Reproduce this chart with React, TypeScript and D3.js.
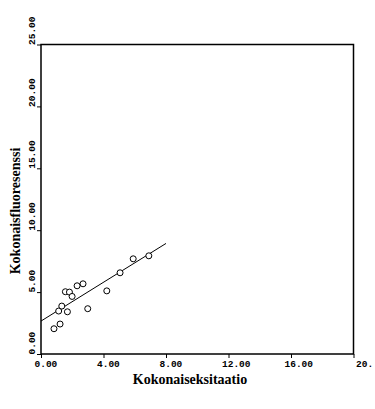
import React, { useEffect, useRef } from 'react'
import * as d3 from 'd3'

// excitation vs fluorescence
const excitation = [0.83, 1.22, 1.13, 1.33, 1.69, 1.56, 1.82, 1.99, 2.31, 2.69, 2.99, 4.21, 5.06, 5.9, 6.9]
const fluorescence = [2.04, 2.42, 3.47, 3.87, 3.41, 5.03, 5.0, 4.65, 5.51, 5.67, 3.66, 5.1, 6.56, 7.69, 7.93]

// regression line ends
const fitX = [0, 8.0]
const fitY = [2.66, 8.93]

const xTicks = [0, 4, 8, 12, 16, 20]
const xTickLabels = ['0.00', '4.00', '8.00', '12.00', '16.00', '20.']
const yTicks = [0, 5, 10, 15, 20, 25]
const yTickLabels = ['0.00', '5.00', '10.00', '15.00', '20.00', '25.00']

const xTitle = 'Kokonaiseksitaatio'
const yTitle = 'Kokonaisfluoresenssi'

const W = 375
const H = 409

export default function App () {
  const ref = useRef<SVGSVGElement>(null)

  useEffect(() => {
    const svg = d3.select(ref.current)
    svg.selectAll('*').remove()

    const x = d3.scaleLinear().domain([0, 20]).range([41, 353.5])
    const y = d3.scaleLinear().domain([0, 25]).range([354, 44.5])

    const tickFont = "'Liberation Mono', monospace"
    const titleFont = "'Liberation Serif', 'DejaVu Serif', serif"

    // frame
    svg.append('rect')
      .attr('x', x(0)).attr('y', y(25))
      .attr('width', x(20) - x(0)).attr('height', y(0) - y(25))
      .attr('fill', 'none').attr('stroke', '#000').attr('stroke-width', 1.5)

    // bottom axis
    const xAxis = d3.axisBottom(x)
      .tickValues(xTicks)
      .tickSize(4)
      .tickFormat((d, i) => xTickLabels[i])
    const gx = svg.append('g').attr('transform', `translate(0,${y(0)})`).call(xAxis)
    gx.select('.domain').remove()
    gx.selectAll('line').attr('stroke', '#000')
    gx.selectAll('text')
      .attr('font-family', tickFont)
      .attr('font-weight', 'bold')
      .attr('font-size', 9.5)
      .attr('fill', '#000')
      .attr('text-anchor', 'start')
      .attr('dx', (d, i) => (i === 5 ? 2 : -7))
      .attr('y', 6)
      .attr('dy', '0.71em')

    // left axis
    const yAxis = d3.axisLeft(y)
      .tickValues(yTicks)
      .tickSize(4)
      .tickFormat((d, i) => yTickLabels[i])
    const gy = svg.append('g').attr('transform', `translate(${x(0)},0)`).call(yAxis)
    gy.select('.domain').remove()
    gy.selectAll('line').attr('stroke', '#000')
    gy.selectAll('text')
      .attr('font-family', tickFont)
      .attr('font-weight', 'bold')
      .attr('font-size', 9.5)
      .attr('fill', '#000')
      .attr('text-anchor', 'start')
      .attr('x', null).attr('dy', null)
      .attr('transform', 'translate(-6,0) rotate(-90)')

    // fit line
    const line = d3.line<number>()
      .x(d => x(d))
      .y((d, i) => y(fitY[i]))
    svg.append('path')
      .attr('d', line(fitX))
      .attr('fill', 'none')
      .attr('stroke', '#000')
      .attr('stroke-width', 1)

    // points
    svg.append('g')
      .selectAll('circle')
      .data(excitation)
      .join('circle')
      .attr('cx', d => x(d))
      .attr('cy', (d, i) => y(fluorescence[i]))
      .attr('r', 3)
      .attr('fill', '#fff')
      .attr('stroke', '#000')
      .attr('stroke-width', 1)

    // titles
    svg.append('text')
      .attr('x', 190).attr('y', 384)
      .attr('text-anchor', 'middle')
      .attr('font-family', titleFont)
      .attr('font-weight', 'bold')
      .attr('font-size', 14)
      .text(xTitle)

    svg.append('text')
      .attr('transform', 'translate(20,211) rotate(-90)')
      .attr('text-anchor', 'middle')
      .attr('font-family', titleFont)
      .attr('font-weight', 'bold')
      .attr('font-size', 14)
      .text(yTitle)
  }, [])

  return (
    <svg
      ref={ref}
      width={W}
      height={H}
      style={{ position: 'absolute', left: 0, top: 0, background: '#fff' }}
    />
  )
}
